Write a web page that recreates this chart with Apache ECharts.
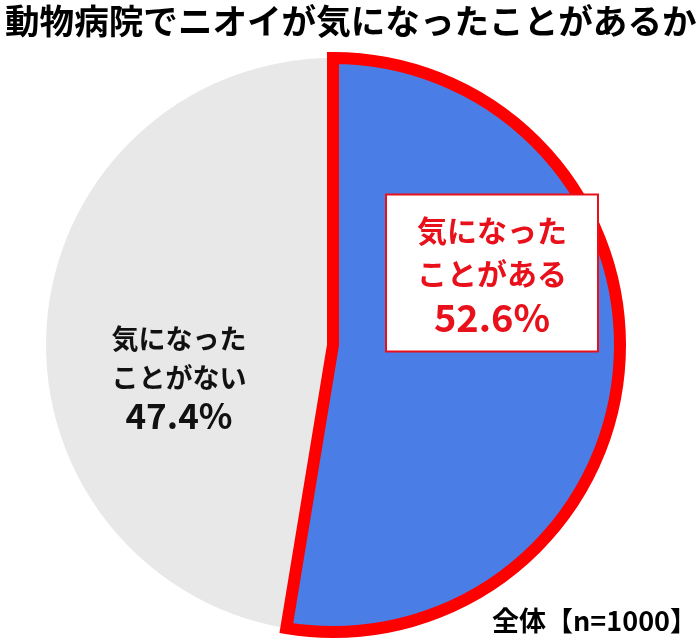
<!DOCTYPE html>
<html><head><meta charset="utf-8">
<script src="https://cdn.jsdelivr.net/npm/echarts@6/dist/echarts.min.js"></script>
<style>html,body{margin:0;padding:0;background:#fff}#c{width:700px;height:638px}</style>
</head><body><div id="c"></div>
<script>
const titleText = '動物病院でニオイが気になったことがあるか';
const categories = ['気になった\nことがない', '気になった\nことがある'];
const values = [47.4, 52.6];
const footnote = '全体【n=1000】';

const chart = echarts.init(document.getElementById('c'), null, {renderer: 'canvas'});
const F = '"Noto Sans CJK JP", "Noto Sans", sans-serif';
const yesShare = values[1] / (values[0] + values[1]);
const fmt = p => p.name.split('\n').map(s => '{a|' + s + '}').join('\n') + '\n{b|' + p.value.toFixed(1) + '%}';
chart.setOption({
  animation: false,
  title: {
    text: titleText, left: 0, top: -1,
    textStyle: {fontFamily: F, fontSize: 34.6, fontWeight: 'bold', color: '#000'}
  },
  graphic: [{
    type: 'text', right: 3, bottom: 4,
    style: {text: footnote, font: 'bold 27px ' + F, fill: '#000'}
  }],
  series: [{
    type: 'pie',
    center: [333, 345],
    radius: ['0%', 287],
    clockwise: true,
    startAngle: 90 - yesShare * 360,
    silent: true,
    labelLine: {show: false},
    data: [
      {
        name: categories[0], value: values[0],
        itemStyle: {color: '#E8E8E8', borderWidth: 0},
        label: {
          show: true, position: 'inside', formatter: fmt, align: 'center',
          rich: {
            a: {fontFamily: F, fontSize: 27, fontWeight: 'bold', color: '#111', lineHeight: 39, align: 'center'},
            b: {fontFamily: F, fontSize: 35, fontWeight: 'bold', color: '#111', lineHeight: 37, align: 'center'}
          }
        }
      },
      {
        name: categories[1], value: values[1],
        itemStyle: {color: '#4A7EE6', borderColor: '#FF0000', borderWidth: 12, borderJoin: 'miter'},
        label: {
          show: true, position: 'inside', formatter: fmt, align: 'center',
          backgroundColor: '#fff', borderColor: '#E8101A', borderWidth: 2, padding: [14, 30, 10, 30],
          rich: {
            a: {fontFamily: F, fontSize: 30, fontWeight: 'bold', color: '#E8101A', lineHeight: 43, align: 'center'},
            b: {fontFamily: F, fontSize: 38, fontWeight: 'bold', color: '#E8101A', lineHeight: 45, align: 'center'}
          }
        }
      }
    ],
    labelLayout: function (p) {
      if (p.dataIndex === 1) return {dx: 13, dy: -84};
      return {dx: -8, dy: 44};
    }
  }]
});
</script></body></html>
